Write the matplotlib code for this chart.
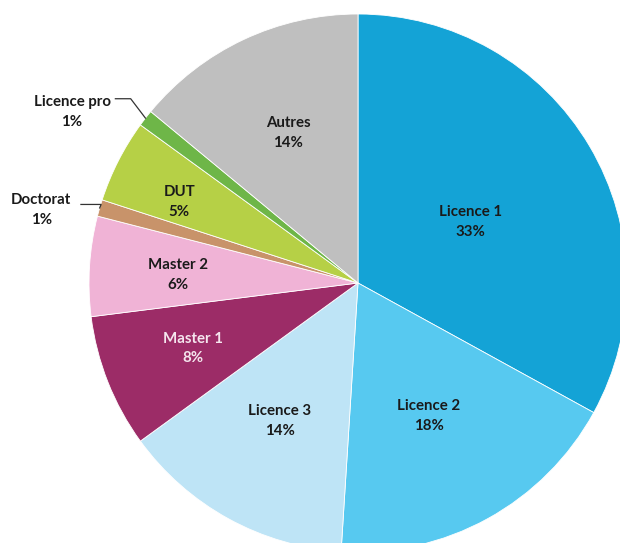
import matplotlib
matplotlib.use("Agg")
import matplotlib.pyplot as plt
import numpy as np

categories = ["Licence 1", "Licence 2", "Licence 3", "Master 1", "Master 2",
              "Doctorat", "DUT", "Licence pro", "Autres"]
values = [33, 18, 14, 8, 6, 1, 5, 1, 14]
colors = ["#14A3D6", "#57C9F0", "#BEE4F6", "#9C2C67", "#F0B3D6",
          "#C8936A", "#B6D046", "#6EB648", "#BFBFBF"]
text_colors = ["#1a1a1a", "#1a1a1a", "#1a1a1a", "#F5E6EE", "#1a1a1a",
               "#1a1a1a", "#1a1a1a", "#1a1a1a", "#1a1a1a"]
label_radius = [0.477, 0.56, 0.589, 0.659, 0.67, None, 0.73, None, 0.615]
label_shift = [-2.2, -0.7, -0.7, 0.0, 1.0, 0.0, 2.6, 0.0, -0.2]

plt.rcParams['font.family'] = ['Lato', 'DejaVu Sans']

fig = plt.figure(figsize=(6.2, 5.43), dpi=100)
ax = fig.add_axes([89/620, -9/543, 538/620, 538/543])
wedges, _ = ax.pie(values, colors=colors, startangle=90, counterclock=False,
                   wedgeprops=dict(edgecolor="white", linewidth=0.6))
ax.set_xlim(-1, 1)
ax.set_ylim(-1, 1)
ax.set_aspect("equal")
ax.axis("off")

FS = 10.8
for w, cat, v, tc, r, s in zip(wedges, categories, values, text_colors, label_radius, label_shift):
    mid = np.deg2rad((w.theta1 + w.theta2) / 2 + s)
    if r is not None:
        ax.text(r*np.cos(mid), r*np.sin(mid), f"{cat}\n{v}%", ha="center", va="center",
                fontsize=FS, fontweight="bold", color=tc, linespacing=1.5)

# external labels
ext = {"Doctorat": ((-1.178, 0.272), (-1.03, 0.292), (-0.955, 0.292)),
       "Licence pro": ((-1.063, 0.635), (-0.902, 0.685), (-0.845, 0.685))}
for w, cat, v in zip(wedges, categories, values):
    if cat in ext:
        (tx, ty), (lx0, ly0), (lx1, ly1) = ext[cat]
        mid = np.deg2rad((w.theta1 + w.theta2) / 2)
        ex, ey = np.cos(mid), np.sin(mid)
        ax.text(tx, ty, f"{cat}\n{v}%", ha="center", va="center",
                fontsize=FS, fontweight="bold", color="#1a1a1a", linespacing=1.5)
        ax.plot([lx0, lx1, ex], [ly0, ly1, ey], color="#333333", lw=0.9, clip_on=False)

fig.savefig("out.png", dpi=100)
